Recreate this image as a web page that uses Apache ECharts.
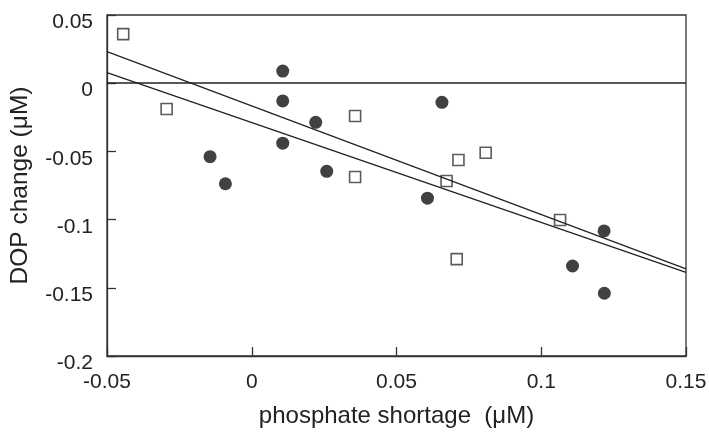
<!DOCTYPE html>
<html>
<head>
<meta charset="utf-8">
<script src="https://cdn.jsdelivr.net/npm/echarts@6/dist/echarts.min.js"></script>
<style>html,body{margin:0;padding:0;background:#fff}#c{width:709px;height:432px}</style>
</head>
<body>
<div id="c"></div>
<script>
// Open squares
const squaresX = [-0.0444, -0.0294, 0.0357, 0.0357, 0.0673, 0.0714, 0.0808, 0.0708, 0.1065];
const squaresY = [0.036, -0.0189, -0.0240, -0.0688, -0.0717, -0.0563, -0.051, -0.129, -0.1003];
// Filled circles
const circlesX = [-0.0144, -0.0091, 0.0107, 0.0107, 0.0107, 0.0221, 0.0259, 0.0657, 0.0607, 0.1217, 0.1108, 0.1218];
const circlesY = [-0.0539, -0.0737, 0.0089, -0.013, -0.044, -0.0287, -0.0646, -0.014, -0.0843, -0.1083, -0.134, -0.154];
// Regression lines (endpoints)
const lineAX = [-0.05, 0.15];
const lineAY = [0.0231, -0.1362];
const lineBX = [-0.05, 0.15];
const lineBY = [0.0077, -0.1387];
const xTicks = ['-0.05', '0', '0.05', '0.1', '0.15'];
const yTicks = ['-0.2', '-0.15', '-0.1', '-0.05', '0', '0.05'];

const zip = (a, b) => a.map((v, i) => [v, b[i]]);
const fmt = v => String(parseFloat(v.toFixed(3)));
const font = 'Liberation Sans, Arial, Helvetica, sans-serif';

const chart = echarts.init(document.getElementById('c'), null, {renderer: 'canvas'});
chart.setOption({
  animation: false,
  backgroundColor: '#fff',
  grid: {left: 107, top: 15, width: 579, height: 341, containLabel: false, outerBoundsMode: 'none',
    show: true, borderColor: '#333', borderWidth: 1.3, backgroundColor: 'transparent'},
  xAxis: {
    type: 'value', min: -0.05, max: 0.15, interval: 0.05,
    name: 'phosphate shortage  (\u03bcM)', nameLocation: 'middle', nameGap: 48,
    nameTextStyle: {fontFamily: font, fontSize: 24, color: '#222'},
    axisLine: {show: true, onZero: false, lineStyle: {color: '#333', width: 1.3}},
    axisTick: {show: true, inside: true, length: 9, lineStyle: {color: '#333', width: 1.3}},
    axisLabel: {fontFamily: font, fontSize: 21, color: '#222', margin: 16,
      formatter: v => xTicks.find(t => Math.abs(parseFloat(t) - v) < 1e-9) || fmt(v)},
    splitLine: {show: false}
  },
  yAxis: {
    type: 'value', min: -0.2, max: 0.05, interval: 0.05,
    name: 'DOP change (\u03bcM)', nameLocation: 'middle', nameGap: 74,
    nameTextStyle: {fontFamily: font, fontSize: 24.5, color: '#222'},
    axisLine: {show: true, onZero: false, lineStyle: {color: '#333', width: 1.3}},
    axisTick: {show: true, inside: true, length: 9, lineStyle: {color: '#333', width: 1.3}},
    axisLabel: {fontFamily: font, fontSize: 21, color: '#222', margin: 14, verticalAlign: 'top', lineHeight: 15,
      formatter: v => yTicks.find(t => Math.abs(parseFloat(t) - v) < 1e-9) || fmt(v)},
    splitLine: {show: false}
  },
  series: [
    {type: 'line', data: zip(lineAX, lineAY), symbol: 'none', lineStyle: {color: '#222', width: 1.3}, silent: true,
      markLine: {silent: true, symbol: 'none', label: {show: false}, lineStyle: {color: '#222', width: 1.5, type: 'solid'}, data: [{yAxis: 0}]}},
    {type: 'line', data: zip(lineBX, lineBY), symbol: 'none', lineStyle: {color: '#222', width: 1.3}, silent: true},
    {type: 'scatter', data: zip(squaresX, squaresY), symbol: 'rect', symbolSize: 11,
      itemStyle: {color: '#fff', borderColor: '#333', borderWidth: 1.6}},
    {type: 'scatter', data: zip(circlesX, circlesY), symbol: 'circle', symbolSize: 13,
      itemStyle: {color: '#111'}}
  ]
});
</script>
</body>
</html>
